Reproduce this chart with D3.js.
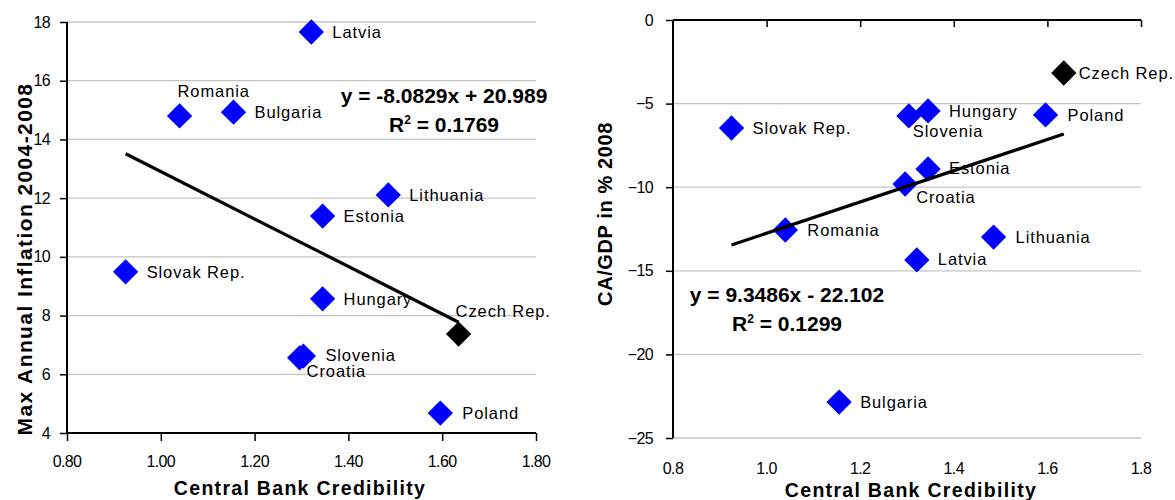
<!DOCTYPE html>
<html>
<head>
<meta charset="utf-8">
<script src="https://cdn.jsdelivr.net/npm/d3@7"></script>
<style>
  body { margin: 0; background: #fff; }
  svg { font-family: "Liberation Sans", Arial, sans-serif; }
</style>
</head>
<body>
<svg id="chart" width="1175" height="500"></svg>
<script>
// data
const countries = ["Latvia", "Romania", "Bulgaria", "Lithuania", "Estonia", "Slovak Rep.",
  "Hungary", "Czech Rep.", "Slovenia", "Croatia", "Poland"];
const credibility = [1.321, 1.040, 1.155, 1.485, 1.345, 0.925, 1.345, 1.635, 1.304, 1.296, 1.596];
const maxInflation = [17.66, 14.80, 14.93, 12.11, 11.39, 9.49, 8.57, 7.37, 6.62, 6.56, 4.68];
const caGdp = [-14.35, -12.56, -22.85, -12.98, -8.91, -6.46, -5.44, -3.17, -5.74, -9.81, -5.68];
const highlight = "Czech Rep.";

const inflTicksY = [4, 6, 8, 10, 12, 14, 16, 18];
const inflTicksX = [0.8, 1.0, 1.2, 1.4, 1.6, 1.8];
const caTicksY = [0, -5, -10, -15, -20, -25];
const caTicksX = [0.8, 1.0, 1.2, 1.4, 1.6, 1.8];

const inflFit = { slope: -8.0829, icpt: 20.989, text: "y = -8.0829x + 20.989", r2: "0.1769" };
const caFit = { slope: 9.3486, icpt: -22.102, text: "y = 9.3486x - 22.102", r2: "0.1299" };

// label offsets (layout only)
const inflLabelOff = {
  "Latvia": [21, 0], "Romania": [-2, -25], "Bulgaria": [21, 0], "Lithuania": [21, 0],
  "Estonia": [21, 0], "Slovak Rep.": [21, 0], "Hungary": [21, 0], "Czech Rep.": [-3, -23],
  "Slovenia": [22, -1], "Croatia": [7, 13], "Poland": [22, 0]
};
const caLabelOff = {
  "Latvia": [21, -1], "Romania": [22, 0], "Bulgaria": [21, 0], "Lithuania": [22, 0],
  "Estonia": [21, -1], "Slovak Rep.": [21, 0], "Hungary": [21, 0], "Czech Rep.": [15, 0],
  "Slovenia": [4, 15], "Croatia": [11, 13], "Poland": [22, 0]
};

const svg = d3.select("#chart");
const diamond = d3.symbol().type(d3.symbolSquare).size(320);

let drawPanel = (opt) => {
  let g = svg.append("g");
  let x = d3.scaleLinear().domain(opt.xDomain).range([opt.left, opt.right]);
  let y = d3.scaleLinear().domain(opt.yDomain).range([opt.bottom, opt.top]);

  // gridlines
  g.append("g").selectAll("line").data(opt.yTicks.filter(opt.gridFilter)).enter().append("line")
    .attr("x1", opt.left).attr("x2", opt.right)
    .attr("y1", d => y(d)).attr("y2", d => y(d))
    .attr("stroke", "#c4c4c4").attr("stroke-width", 1.3);

  // y axis
  let yAxis = g.append("g").attr("transform", `translate(${opt.left},0)`)
    .call(d3.axisLeft(y).tickValues(opt.yTicks).tickSize(7).tickPadding(opt.yPad)
      .tickFormat(d3.format("d")));
  yAxis.select(".domain").attr("stroke", "#000").attr("stroke-width", 2)
    .attr("d", `M0,${opt.top}V${opt.bottom}`);
  yAxis.selectAll(".tick line").attr("stroke", "#000").attr("stroke-width", 1.5);
  yAxis.selectAll("text").attr("font-size", 16).attr("fill", "#000")
    .attr("font-family", "Liberation Sans, Arial").style("letter-spacing", "-0.6px");

  // x axis line
  let xAxis = g.append("g").attr("transform", `translate(0,${y(opt.xAxisAt)})`)
    .call(d3.axisBottom(x).tickValues(opt.xTicks).tickSize(opt.xTickSize).tickFormat(""));
  xAxis.select(".domain").attr("stroke", "#000").attr("stroke-width", 2)
    .attr("d", `M${opt.left},0H${opt.right}`);
  xAxis.selectAll(".tick line").attr("stroke", "#000").attr("stroke-width", 1.5)
    .attr("y1", opt.xTickY1).attr("y2", opt.xTickY2);
  if (opt.hideFirstXTick) xAxis.select(".tick line").remove();

  // x tick labels (below plot)
  g.append("g").selectAll("text").data(opt.xTicks).enter().append("text")
    .attr("x", d => x(d)).attr("y", opt.xLabelY)
    .attr("text-anchor", "middle").attr("font-size", 16)
    .style("letter-spacing", "-0.6px")
    .text(d => d3.format(opt.xFmt)(d));

  // markers
  let pts = countries.map((c, i) => ({ name: c, cx: x(credibility[i]), cy: y(opt.values[i]) }));
  g.append("g").selectAll("path").data(pts).enter().append("path")
    .attr("d", diamond)
    .attr("transform", d => `translate(${d.cx},${d.cy}) rotate(45)`)
    .attr("fill", d => d.name === highlight ? "#000" : "#0000ff");

  // labels
  g.append("g").selectAll("text").data(pts).enter().append("text")
    .attr("x", d => d.cx + opt.offsets[d.name][0])
    .attr("y", d => d.cy + opt.offsets[d.name][1] + 6)
    .attr("font-size", 16.5).style("letter-spacing", "0.9px")
    .text(d => d.name);

  // trendline over data extent
  let ext = d3.extent(credibility);
  g.append("line")
    .attr("x1", x(ext[0])).attr("y1", y(opt.fit.slope * ext[0] + opt.fit.icpt))
    .attr("x2", x(ext[1])).attr("y2", y(opt.fit.slope * ext[1] + opt.fit.icpt))
    .attr("stroke", "#000").attr("stroke-width", 3.2);

  // equation
  let eq = g.append("g").attr("font-weight", "bold").attr("font-size", 21)
    .attr("text-anchor", "middle");
  eq.append("text").attr("x", opt.eqX).attr("y", opt.eqY).text(opt.fit.text);
  let r = eq.append("text").attr("x", opt.eqX).attr("y", opt.eqY + 29);
  r.append("tspan").text("R");
  r.append("tspan").attr("font-size", 12).attr("dy", -8).text("2");
  r.append("tspan").attr("dy", 8).text(" = " + opt.fit.r2);

  // titles
  g.append("text").attr("x", opt.xTitleX).attr("y", opt.xTitleY)
    .attr("text-anchor", "middle").attr("font-weight", "bold").attr("font-size", 19.5)
    .style("letter-spacing", "1.3px").text("Central Bank Credibility");
  g.append("text")
    .attr("transform", `translate(${opt.yTitleX},${opt.yTitleY}) rotate(-90)`)
    .attr("text-anchor", "middle").attr("font-weight", "bold").attr("font-size", opt.yTitleSize)
    .style("letter-spacing", opt.yTitleSpacing).text(opt.yTitle);
};

drawPanel({
  left: 67, right: 536, top: 22, bottom: 433,
  xDomain: [0.8, 1.8], yDomain: [4, 18],
  xTicks: inflTicksX, yTicks: inflTicksY, xFmt: ".2f",
  gridFilter: d => d !== 4, yPad: 10,
  xAxisAt: 4, xTickSize: 7, xTickY1: 0, xTickY2: 8, xLabelY: 467,
  values: maxInflation, offsets: inflLabelOff, fit: inflFit,
  eqX: 444, eqY: 103,
  xTitleX: 300, xTitleY: 495,
  yTitleX: 32, yTitleY: 259, yTitleSize: 21, yTitleSpacing: "1.4px",
  yTitle: "Max Annual Inflation 2004-2008"
});

drawPanel({
  left: 673, right: 1141, top: 20, bottom: 438,
  xDomain: [0.8, 1.8], yDomain: [-25, 0],
  xTicks: caTicksX, yTicks: caTicksY, xFmt: ".1f",
  gridFilter: d => d !== 0, yPad: 13,
  xAxisAt: 0, xTickSize: 7, xTickY1: 0, xTickY2: 7, xLabelY: 474,
  hideFirstXTick: true,
  values: caGdp, offsets: caLabelOff, fit: caFit,
  eqX: 787, eqY: 302,
  xTitleX: 911, xTitleY: 497,
  yTitleX: 612, yTitleY: 214, yTitleSize: 20, yTitleSpacing: "0.6px",
  yTitle: "CA/GDP in % 2008"
});
</script>
</body>
</html>
